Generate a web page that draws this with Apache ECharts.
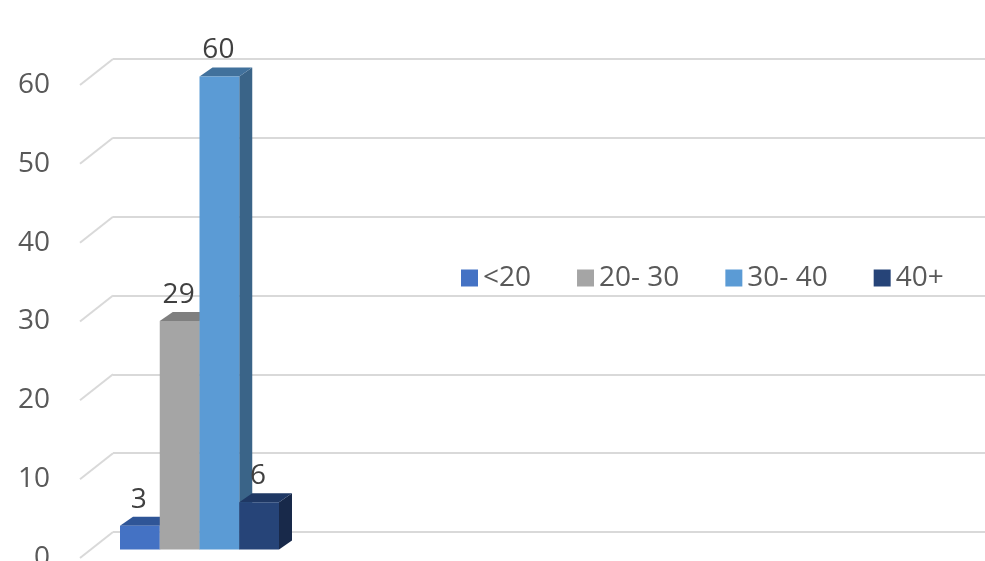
<!DOCTYPE html>
<html>
<head>
<meta charset="utf-8" />
<title></title>
<script type="text/javascript" src="https://cdn.jsdelivr.net/npm/echarts@6/dist/echarts.min.js"></script>
</head>
<body style="margin:0">
<div id="chart" style="width:985px;height:561px;"></div>
</body>
</html>
<script type="text/javascript">
// chart data
var groups = ['<20', '20- 30', '30- 40', '40+'];
var counts = [3, 29, 60, 6];
var yTicks = [0, 10, 20, 30, 40, 50, 60];

// colours: front, top, side
var frontColors = ['#4472C4', '#A5A5A5', '#5B9BD5', '#264478'];
var topColors = ['#2F5597', '#7F7F7F', '#41719C', '#1F3864'];
var sideColors = ['#2B4D8C', '#6E6E6E', '#3A6488', '#18294A'];

var FONT = 'Open Sans';
var DX = 13, DY = -9; // bar depth

function barItem(i) {
	return function (params, api) {
		var x = api.value(0), v = api.value(1);
		var p = api.coord([x, v]);
		var p0 = api.coord([x, 0]);
		var w = api.size([1, 0])[0];
		var l = p[0] - w / 2, r = p[0] + w / 2;
		return {
			type: 'group',
			children: [{
				type: 'polygon',
				shape: { points: [[r, p[1]], [r + DX, p[1] + DY], [r + DX, p0[1] + DY], [r, p0[1]]] },
				style: { fill: sideColors[i] }
			}, {
				type: 'polygon',
				shape: { points: [[l, p[1]], [l + DX, p[1] + DY], [r + DX, p[1] + DY], [r, p[1]]] },
				style: { fill: topColors[i] }
			}, {
				type: 'rect',
				shape: { x: l, y: p[1], width: w, height: p0[1] - p[1] },
				style: { fill: frontColors[i] }
			}, {
				type: 'text',
				x: p[0] - 1,
				y: p[1] + DY - 17,
				style: {
					text: String(v),
					fill: '#404040',
					font: '28px "' + FONT + '"',
					align: 'center',
					verticalAlign: 'middle'
				}
			}]
		};
	};
}

var series = [];
// floor edge diagonals
series.push({
	type: 'custom',
	xAxisIndex: 1,
	yAxisIndex: 1,
	silent: true,
	data: yTicks.map(function (v) { return [0, v]; }),
	renderItem: function (params, api) {
		var p = api.coord([0, api.value(1)]);
		return {
			type: 'line',
			shape: { x1: p[0], y1: p[1], x2: p[0] + 33, y2: p[1] - 26 },
			style: { stroke: '#D9D9D9', lineWidth: 2 }
		};
	}
});
for (var i = 0; i < groups.length; i++) {
	series.push({
		name: groups[i],
		type: 'custom',
		xAxisIndex: 2,
		yAxisIndex: 2,
		itemStyle: { color: frontColors[i] },
		data: [[i, counts[i]]],
		renderItem: barItem(i)
	});
}

var chart = echarts.init(document.getElementById('chart'));
var option = {
	backgroundColor: '#fff',
	animation: false,
	legend: {
		data: groups,
		left: 456,
		top: 259,
		icon: 'rect',
		itemWidth: 17,
		itemHeight: 17,
		itemGap: 46,
		textStyle: { color: '#595959', fontSize: 28, fontFamily: FONT }
	},
	grid: [
		{ left: 113, right: 0, top: 59, height: 473, outerBoundsMode: 'none' },   // back wall
		{ left: 80, right: 0, top: 85, height: 473, outerBoundsMode: 'none' },    // front edge
		{ left: 120, width: 159, top: 76.5, height: 473, outerBoundsMode: 'none' } // bar fronts
	],
	xAxis: [
		{ gridIndex: 0, type: 'value', min: 0, max: 1, show: false },
		{ gridIndex: 1, type: 'value', min: 0, max: 1, show: false },
		{ gridIndex: 2, type: 'category', data: groups, show: false }
	],
	yAxis: [
		{
			gridIndex: 0, type: 'value', min: 0, max: 60, interval: 10,
			axisLabel: { show: false }, axisLine: { show: false }, axisTick: { show: false },
			splitLine: { lineStyle: { color: '#D9D9D9', width: 2 } }
		},
		{
			gridIndex: 1, type: 'value', min: 0, max: 60, interval: 10,
			axisLine: { show: false }, axisTick: { show: false }, splitLine: { show: false },
			axisLabel: { margin: 30, color: '#595959', fontSize: 28, fontFamily: FONT }
		},
		{ gridIndex: 2, type: 'value', min: 0, max: 60, show: false }
	],
	series: series
};
chart.setOption(option);
</script>
